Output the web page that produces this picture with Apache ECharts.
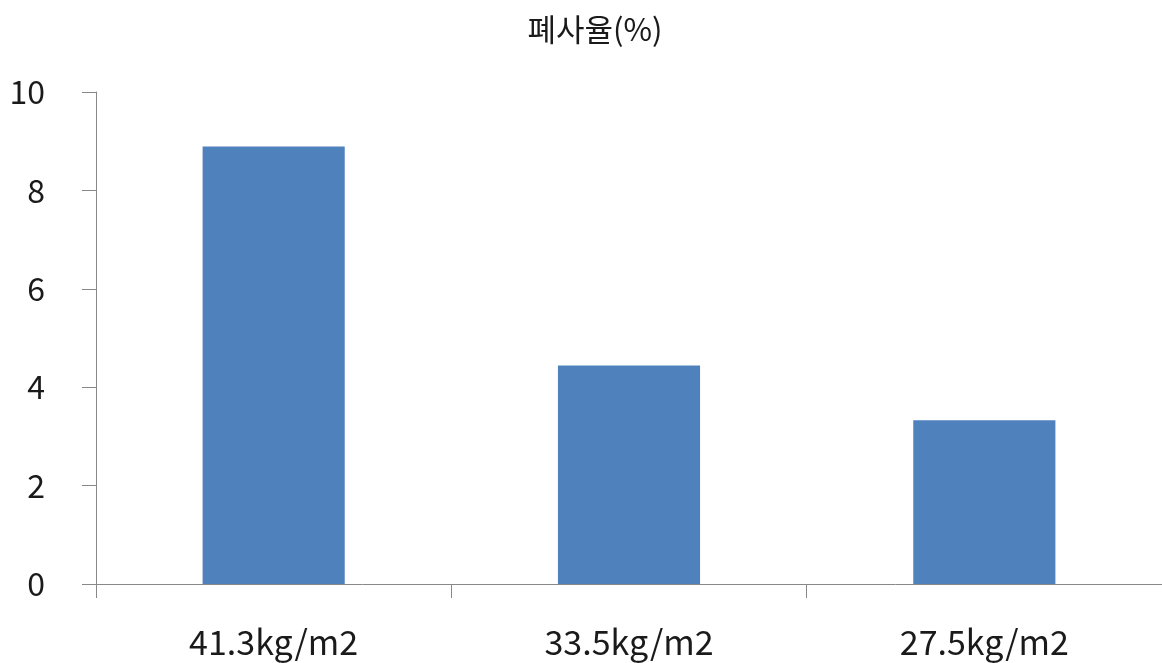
<!DOCTYPE html>
<html>
<head>
<meta charset="utf-8">
<script src="https://cdn.jsdelivr.net/npm/echarts@6/dist/echarts.min.js"></script>
<style>
  html, body { margin: 0; padding: 0; background: #fff; }
  #chart { width: 1162px; height: 663px; }
</style>
</head>
<body>
<div id="chart"></div>
<script>
// Mortality rate by stocking density
const categories = ['41.3kg/m2', '33.5kg/m2', '27.5kg/m2'];
const mortality = [8.89, 4.44, 3.33];
const chartTitle = '폐사율(%)';

const FONT = '"Noto Sans CJK KR", "Noto Sans", sans-serif';
const chart = echarts.init(document.getElementById('chart'), null, { renderer: 'canvas' });

chart.setOption({
  backgroundColor: '#ffffff',
  animation: false,
  title: {
    text: chartTitle,
    left: 590,
    top: 9,
    textAlign: 'center',
    textStyle: { fontFamily: FONT, fontSize: 31, fontWeight: 'normal', color: '#1a1a1a' }
  },
  grid: { left: 96, top: 92, width: 1070, bottom: 79, containLabel: false },
  xAxis: {
    type: 'category',
    data: categories,
    axisLine: { lineStyle: { color: '#888888', width: 1 } },
    axisTick: { show: true, length: 14, alignWithLabel: false, lineStyle: { color: '#888888' } },
    axisLabel: { fontFamily: FONT, fontSize: 34, color: '#1a1a1a', margin: 41 },
    splitLine: { show: false }
  },
  yAxis: {
    type: 'value',
    min: 0,
    max: 10,
    interval: 2,
    axisLine: { show: true, lineStyle: { color: '#888888', width: 1 } },
    axisTick: { show: true, length: 14, lineStyle: { color: '#888888' } },
    axisLabel: { fontFamily: FONT, fontSize: 32, color: '#1a1a1a', margin: 51 },
    splitLine: { show: false }
  },
  series: [{
    type: 'bar',
    data: mortality,
    barWidth: '40%',
    itemStyle: { color: '#4f81bd' }
  }]
});
</script>
</body>
</html>
